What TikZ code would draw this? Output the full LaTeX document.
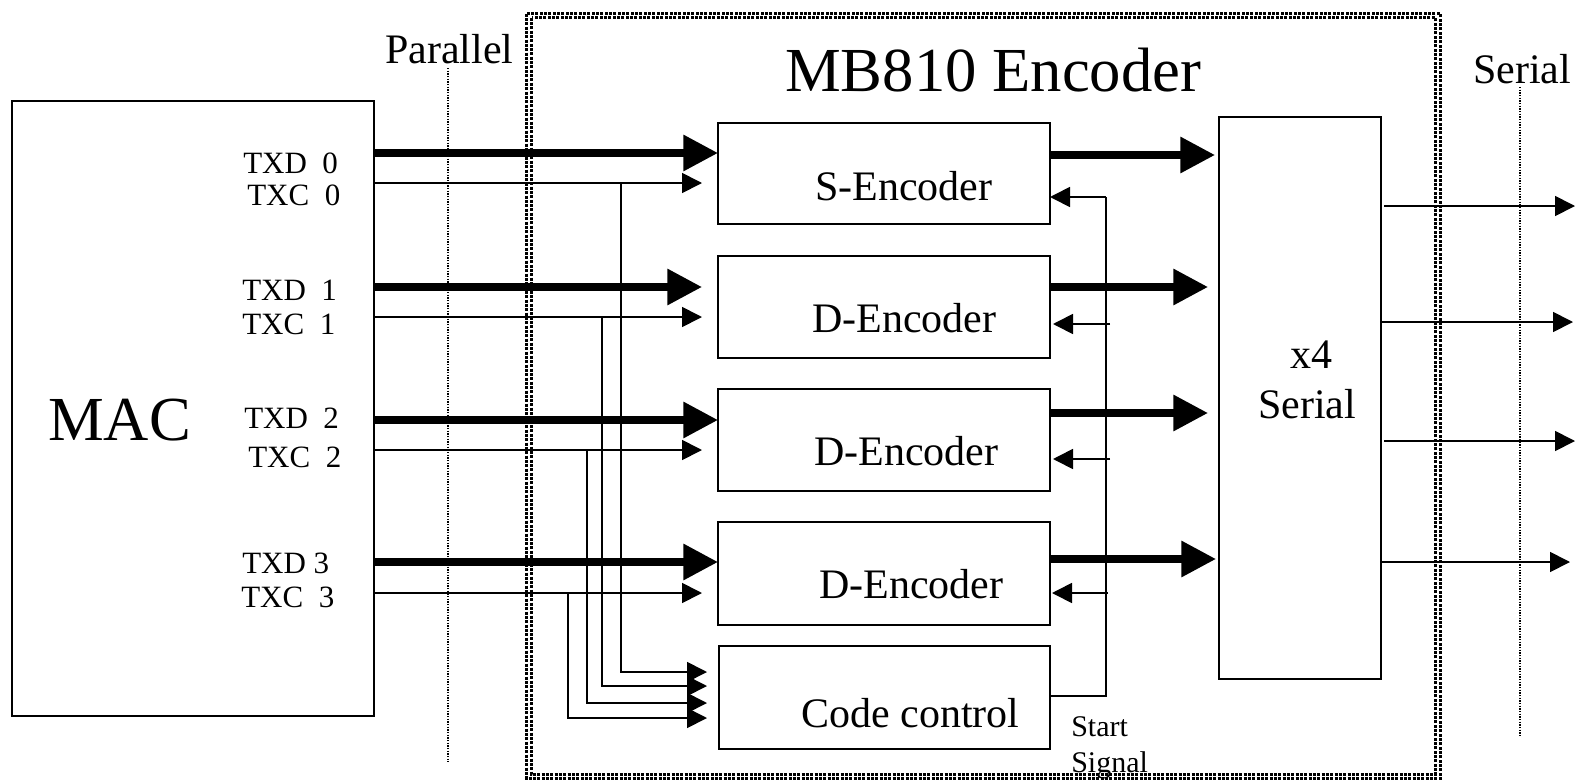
\documentclass[tikz,border=0pt]{standalone}
\usepackage{fontspec}
\setmainfont{Liberation Serif}
\usetikzlibrary{arrows.meta}
\begin{document}
\begin{tikzpicture}[x=0.75pt,y=-0.75pt,
  box/.style={draw, line width=1.5pt, inner sep=0pt, outer sep=0pt},
  thinline/.style={line width=1.3pt},
  thickarr/.style={line width=5.5pt, -{Triangle[length=26pt,width=26pt]}},
  thinarr/.style={line width=1.3pt, -{Triangle[length=15pt,width=15pt]}},
  lbl/.style={anchor=base west, inner sep=0pt, font=\fontsize{23.25}{28}\selectfont},
  mid/.style={anchor=base west, inner sep=0pt, font=\fontsize{31.5}{36}\selectfont},
  midc/.style={anchor=base, inner sep=0pt, font=\fontsize{31.5}{36}\selectfont},
  large/.style={anchor=base west, inner sep=0pt, font=\fontsize{47}{56}\selectfont},
  small/.style={anchor=base west, inner sep=0pt, font=\fontsize{22.5}{27}\selectfont},
  guide/.style={line width=0.8pt, dash pattern=on 1pt off 1pt},
  border/.style={line width=2.25pt, dash pattern=on 2.25pt off 1pt}
]
\useasboundingbox (0,0) rectangle (1578,782);

% encoder frame (double dotted)
\draw[border] (526.5,13.5) rectangle (1440,778.5);
\draw[border] (531.5,17.5) rectangle (1435,774.5);

% guide lines
\draw[guide] (448,68) -- (448,762);
\draw[guide] (1520,87) -- (1520,737);

% boxes
\node[box, minimum width=271.5pt, minimum height=461.25pt] (mac) at (193,408.5) {};
\node[box, minimum width=249pt, minimum height=75.75pt] (senc) at (884,173.5) {};
\node[box, minimum width=249pt, minimum height=76.5pt] (denc1) at (884,307) {};
\node[box, minimum width=249pt, minimum height=76.5pt] (denc2) at (884,440) {};
\node[box, minimum width=249pt, minimum height=77.25pt] (denc3) at (884,573.5) {};
\node[box, minimum width=248.25pt, minimum height=77.25pt] (cc) at (884.5,697.5) {};
\node[box, minimum width=121.5pt, minimum height=421.5pt] (ser) at (1300,398) {};

% texts
\node[large] (tmac) at (48,440) {MAC};
\node[large] (ttitle) at (785,91) {MB810 Encoder};
\node[mid] (tpar) at (385,63) {Parallel};
\node[mid] (tser) at (1473,83) {Serial};
\node[mid] (tsenc) at (815,200) {S-Encoder};
\node[mid] (td1) at (812,332) {D-Encoder};
\node[mid] (td2) at (814,465) {D-Encoder};
\node[mid] (td3) at (819,598) {D-Encoder};
\node[mid] (tcc) at (801,727) {Code control};
\node[midc] (tx4) at (1311,368) {x4};
\node[midc] (tserial) at (1307,418) {Serial};
\node[small] (tstart) at (1071,736) {Start};
\node[small] (tsignal) at (1071,772) {Signal};

\node[lbl] (l0d) at (243,173) {TXD~~0};
\node[lbl] (l0c) at (247,205) {TXC~~0};
\node[lbl] (l1d) at (242,300) {TXD~~1};
\node[lbl] (l1c) at (242,334) {TXC~~1};
\node[lbl] (l2d) at (244,428) {TXD~~2};
\node[lbl] (l2c) at (248,467) {TXC~~2};
\node[lbl] (l3d) at (242,573) {TXD 3};
\node[lbl] (l3c) at (241,607) {TXC~~3};

% data (thick) inputs
\draw[thickarr] (mac.east |- 0,153) -- (senc.west |- 0,153);
\draw[thickarr, shorten >=12pt] (mac.east |- 0,287) -- (denc1.west |- 0,287);
\draw[thickarr] (mac.east |- 0,420) -- (denc2.west |- 0,420);
\draw[thickarr] (mac.east |- 0,562) -- (denc3.west |- 0,562);

% clock (thin) inputs
\draw[thinarr, shorten >=12pt] (mac.east |- 0,183) -- (senc.west |- 0,183);
\draw[thinarr, shorten >=12pt] (mac.east |- 0,317) -- (denc1.west |- 0,317);
\draw[thinarr, shorten >=12pt] (mac.east |- 0,450) -- (denc2.west |- 0,450);
\draw[thinarr, shorten >=12pt] (mac.east |- 0,593) -- (denc3.west |- 0,593);

% branches to code control
\coordinate (b0) at (621,183);
\coordinate (b1) at (602,317);
\coordinate (b2) at (587,450);
\coordinate (b3) at (568,593);
\draw[thinarr, shorten >=9pt] (b0) -- (b0 |- 0,672) -- (cc.west |- 0,672);
\draw[thinarr, shorten >=9pt] (b1) -- (b1 |- 0,686) -- (cc.west |- 0,686);
\draw[thinarr, shorten >=9pt] (b2) -- (b2 |- 0,703) -- (cc.west |- 0,703);
\draw[thinarr, shorten >=9pt] (b3) -- (b3 |- 0,718) -- (cc.west |- 0,718);

% start signal feedback
\coordinate (fb) at (1106,197);
\draw[thinline] (cc.east |- 0,696) -- (fb |- 0,696) -- (fb);
\draw[thinarr] (fb) -- (senc.east |- fb);
\draw[thinarr, shorten >=2.25pt] (1110,324) -- (denc1.east |- 0,324);
\draw[thinarr, shorten >=2.25pt] (1110,459) -- (denc2.east |- 0,459);
\draw[thinarr, shorten >=1.5pt] (1108,593) -- (denc3.east |- 0,593);

% encoder outputs (thick)
\draw[thickarr, shorten >=3pt] (senc.east |- 0,155) -- (ser.west |- 0,155);
\draw[thickarr, shorten >=8.25pt] (denc1.east |- 0,287) -- (ser.west |- 0,287);
\draw[thickarr, shorten >=8.25pt] (denc2.east |- 0,413) -- (ser.west |- 0,413);
\draw[thickarr, shorten >=2.25pt] (denc3.east |- 0,559) -- (ser.west |- 0,559);

% serial outputs
\coordinate (o1) at (1575,206);
\coordinate (o2) at (1573,322);
\coordinate (o3) at (1575,441);
\coordinate (o4) at (1570,562);
\draw[thinarr] ([xshift=2.25pt]ser.east |- o1) -- (o1);
\draw[thinarr] (ser.east |- o2) -- (o2);
\draw[thinarr] ([xshift=2.25pt]ser.east |- o3) -- (o3);
\draw[thinarr] (ser.east |- o4) -- (o4);
\end{tikzpicture}
\end{document}
